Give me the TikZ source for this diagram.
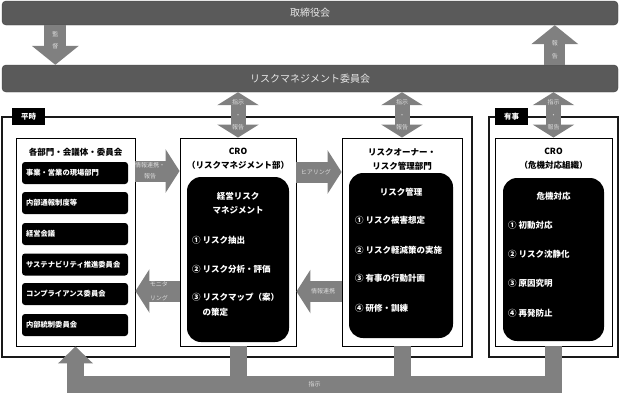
\documentclass[tikz,border=0pt]{standalone}
\usepackage{fontspec}
\setmainfont{Noto Sans CJK JP}
\usetikzlibrary{arrows.meta,positioning,calc}
\definecolor{barfill}{HTML}{5A5A5A}
\definecolor{bartext}{HTML}{E8E8E8}
\definecolor{pipe}{HTML}{808080}
\definecolor{pipetext}{HTML}{DCDCDC}

\begin{document}
\begin{tikzpicture}[x=1pt,y=-1pt,
  bar/.style={draw=barfill!70!black, fill=barfill, rounded corners=4pt, text=bartext, minimum width=616pt, font=\fontsize{10}{12}\selectfont},
  frame/.style={draw=black!90, line width=1.7pt},
  tab/.style={fill=black, text=white, inner sep=0pt, minimum width=33pt, minimum height=17pt, font=\fontsize{7.5}{9}\selectfont\bfseries},
  unit/.style={draw=black, line width=0.9pt, fill=white, minimum height=208pt},
  ttl/.style={align=center, font=\fontsize{8.5}{14}\selectfont\bfseries},
  dbox/.style={fill=black, rounded corners=3pt, text=white, minimum height=22pt, text width=98pt, inner xsep=4pt, align=left, font=\fontsize{7.3}{9}\selectfont\bfseries},
  core/.style={fill=black, rounded corners=14pt},
  ctitle/.style={text=white, align=center, font=\fontsize{8.5}{14}\selectfont\bfseries},
  citem/.style={text=white, anchor=west, align=left, inner sep=0pt, font=\fontsize{8.5}{15}\selectfont\bfseries},
  plbl/.style={text=pipetext, align=center, inner sep=0pt, font=\fontsize{6}{12.5}\selectfont},
  pipeh/.style={draw=pipe, line width=21pt, -{Triangle[width=43pt,length=14pt]}},
  pipev/.style={draw=pipe, line width=22pt, -{Triangle[width=46pt,length=19pt]}},
  piped/.style={draw=pipe, line width=15pt, {Triangle[width=41pt,length=13pt]}-{Triangle[width=41pt,length=13pt]}},
  pipeb/.style={draw=pipe, line width=17pt, line join=miter},
]
\useasboundingbox (0,0) rectangle (620,392);
% board and committee bars
\node[bar, minimum height=24pt] (board) at (310,13) {取締役会};
\node[bar, minimum height=27pt] (rmc) at (310,78.5) {リスクマネジメント委員会};

% normal / emergency frames
\node[frame, minimum width=470pt, minimum height=240pt] (normal) at (237,237) {};
\node[frame, minimum width=129pt, minimum height=240pt] (emerg) at (553.5,237) {};
\node[tab] (normaltab) at (28.5,116.5) {平時};
\node[tab] (emergtab) at (511.5,116.5) {有事};

% four units
\node[unit, minimum width=119pt] (dept) at (75.5,242) {};
\node[unit, minimum width=116pt] (cro) at (238,242) {};
\node[unit, minimum width=120pt] (owner) at (402,242) {};
\node[unit, minimum width=117pt] (crm) at (553.5,242) {};
\node[ttl] (deptttl) at (75.5,152) {各部門・会議体・委員会};
\node[ttl] (crottl) at (238,159) {CRO\\（リスクマネジメント部）};
\node[ttl] (ownerttl) at (402,159.5) {リスクオーナー・\\リスク管理部門};
\node[ttl] (crmttl) at (553.5,159) {CRO\\（危機対応組織）};

% departments
\node[dbox] (d1) at (75,173) {事業・営業の現場部門};
\node[dbox] (d2) at (75,203) {内部通報制度等};
\node[dbox] (d3) at (75,234) {経営会議};
\node[dbox] (d4) at (75,264.5) {サステナビリティ推進委員会};
\node[dbox] (d5) at (75,294) {コンプライアンス委員会};
\node[dbox] (d6) at (75,325) {内部統制委員会};

% CRO core
\node[core, minimum width=102pt, minimum height=165pt] (crocore) at (238,259.5) {};
\node[ctitle] (crocttl) at (238,203) {経営リスク\\マネジメント};
\node[citem] (cro1) at (192,240) {① リスク抽出};
\node[citem] (cro2) at (192,269) {② リスク分析・評価};
\node[citem] (cro3) at (192,304.5) {③ リスクマップ（案）\\\hphantom{③ }の策定};

% risk owner core
\node[core, minimum width=104pt, minimum height=165pt] (ownercore) at (401,255.5) {};
\node[ctitle] (ownercttl) at (401,192) {リスク管理};
\node[citem] (own1) at (355,220) {① リスク被害想定};
\node[citem] (own2) at (355,250) {② リスク軽減策の実施};
\node[citem] (own3) at (355,278) {③ 有事の行動計画};
\node[citem] (own4) at (355,308) {④ 研修・訓練};

% crisis core
\node[core, minimum width=101pt, minimum height=163pt] (crmcore) at (553.5,259.5) {};
\node[ctitle] (crmcttl) at (553.5,196) {危機対応};
\node[citem] (crm1) at (508,225) {① 初動対応};
\node[citem] (crm2) at (508,254) {② リスク沈静化};
\node[citem] (crm3) at (508,283) {③ 原因究明};
\node[citem] (crm4) at (508,313) {④ 再発防止};

% --- pipes between the bars ---
\draw[pipev] ([xshift=53.5pt]board.south west) -- node[plbl, pos=0.375]{監\\督} ([xshift=53.5pt]rmc.north west);
\draw[pipev, line width=21pt] ([xshift=553pt]rmc.north west) -- node[plbl, pos=0.375]{報\\告} ([xshift=553pt]board.south west);
\draw[piped] (rmc.south -| cro.north) -- node[plbl]{指示\\・\\報告} (cro.north);
\draw[piped] (rmc.south -| owner.north) -- node[plbl]{指示\\・\\報告} (owner.north);
\draw[piped] (rmc.south -| crm.north) -- node[plbl]{指示\\・\\報告} (crm.north);

% --- pipes between the units ---
\draw[pipeh] ([yshift=71pt]dept.east) -- node[plbl, pos=0.33, font=\fontsize{6}{11}\selectfont]{情報連携・\\報告} ([yshift=71pt]cro.west);
\draw[pipeh] ([yshift=70pt]cro.east) -- node[plbl, pos=0.43]{ヒアリング} ([yshift=70pt]owner.west);
\draw[pipeh] ([yshift=-49.5pt]owner.west) -- node[plbl, pos=0.41]{情報連携} ([yshift=-49.5pt]cro.east);
\draw[pipeh] ([yshift=-49pt]cro.west) -- node[plbl, pos=0.47, font=\fontsize{6}{14}\selectfont]{モニタ\\リング} ([yshift=-49pt]dept.east);

% --- instruction loop at the bottom ---
\coordinate (cmd) at (75.5,384);
\draw[pipeb, -{Triangle[width=34pt,length=17pt]}] (crm.south) |- node[plbl, pos=0.75]{指示} (cmd) -- (dept.south);
\draw[pipeb] (cro.south) -- (cro.south |- cmd);
\draw[pipeb] (owner.south) -- (owner.south |- cmd);
\end{tikzpicture}
\end{document}
